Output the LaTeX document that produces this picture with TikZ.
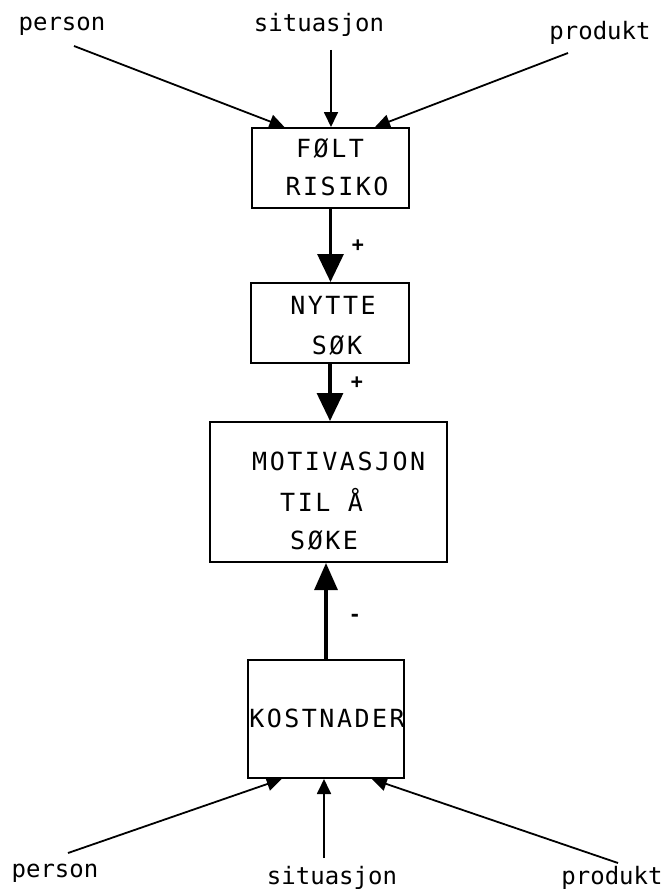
\documentclass[tikz,border=0pt]{standalone}
\usepackage{fontspec}
\usetikzlibrary{arrows.meta,calc}
\newfontfamily\plotlow{DejaVu Sans Mono}
\newfontfamily\plotcap[LetterSpace=10]{DejaVu Sans Mono}
\begin{document}
\begin{tikzpicture}[x=1pt,y=-1pt,
  boxnode/.style={draw,line width=2pt,inner sep=0pt},
  capstext/.style={font=\plotcap\fontsize{25}{25}\selectfont,inner sep=0pt,text height=18pt,text depth=0pt},
  lowtext/.style={font=\plotlow\fontsize{24}{24}\selectfont,inner sep=0pt,anchor=base},
  signtext/.style={font=\plotlow\bfseries\fontsize{20}{20}\selectfont,inner sep=0pt},
  feed/.style={line width=1.8pt,-{Triangle[length=15pt,width=14pt]}},
  mainarrow/.style={line width=3.2pt,-{Triangle[length=28pt,width=26pt]}},
  uparrow/.style={line width=3.2pt,-{Triangle[length=27pt,width=23pt]}}]
\useasboundingbox (0,0) rectangle (666,891);
% boxes
\node[boxnode,minimum width=157pt,minimum height=80pt] (folt) at (330.5,168) {};
\node[boxnode,minimum width=158pt,minimum height=80pt] (nytte) at (330,323) {};
\node[boxnode,minimum width=237pt,minimum height=140pt] (motiv) at (328.5,492) {};
\node[boxnode,minimum width=156pt,minimum height=118pt] (kost) at (326,719) {};
% box texts
\node[capstext] (t1) at (330,148) {FØLT};
\node[capstext] (t2) at (337,186) {RISIKO};
\node[capstext] (t3) at (333,305) {NYTTE};
\node[capstext] (t4) at (337,345) {SØK};
\node[capstext,anchor=west] (t5) at (252,461) {MOTIVASJON};
\node[capstext,anchor=west] (t6) at (280,502) {TIL Å};
\node[capstext,anchor=west] (t7) at (290,540) {SØKE};
\node[capstext] (t8) at (327,718) {KOSTNADER};
% labels
\node[lowtext] (pt) at (62,31) {person};
\node[lowtext] (st) at (319,32) {situasjon};
\node[lowtext] (prt) at (600,40) {produkt};
\node[lowtext] (pb) at (55,877) {person};
\node[lowtext] (sb) at (332,884) {situasjon};
\node[lowtext] (prb) at (612,884) {produkt};
% arrow starts
\coordinate (a1) at (74,46);
\coordinate (a2) at (331,50);
\coordinate (a3) at (568,53);
\coordinate (b1) at (68,853);
\coordinate (b2) at (324,858);
\coordinate (b3) at (618,863);
% top feeds
\draw[feed] (a1) -- ($(folt.north west)!0.21!(folt.north east)$);
\draw[feed] (a2) -- (a2 |- folt.north);
\draw[feed] (a3) -- ($(folt.north west)!0.78!(folt.north east)$);
% main chain
\draw[mainarrow] (folt.south) -- (folt.south |- nytte.north);
\draw[mainarrow] (nytte.south) -- (nytte.south |- motiv.north);
\draw[uparrow] (kost.north) -- (kost.north |- motiv.south);
% bottom feeds
\draw[feed] (b1) -- ($(kost.south west)!0.22!(kost.south east)$);
\draw[feed] (b2) -- (b2 |- kost.south);
\draw[feed] (b3) -- ($(kost.south west)!0.79!(kost.south east)$);
% signs
\node[signtext] (s1) at (358,246) {+};
\node[signtext] (s2) at (357,383) {+};
\node[signtext] (s3) at (355,618) {-};
\end{tikzpicture}
\end{document}
